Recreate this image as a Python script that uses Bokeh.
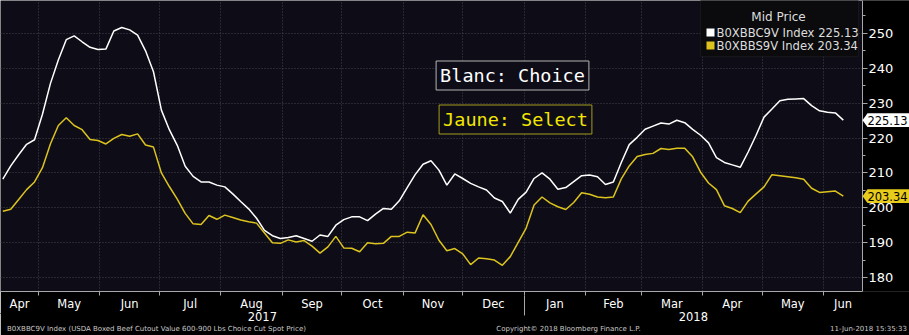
import pandas as pd
from bokeh.plotting import figure
from bokeh.models import (Range1d, DatetimeAxis, LinearAxis, FixedTicker, DatetimeTickFormatter,
                          Label, BoxAnnotation)
from bokeh.embed import file_html
from bokeh.resources import INLINE

# ---------------- data ----------------
dates = pd.date_range("2017-04-13", "2018-06-11", freq="4D")

choice = [208.2, 212.0, 215.2, 218.2, 219.5, 226.8, 235.6, 242.4, 248.2, 249.3,
          247.6, 246.0, 245.4, 245.5, 250.7, 251.7, 251.0, 249.5, 245.0, 239.0,
          228.0, 222.4, 217.9, 211.9, 209.0, 207.4, 207.4, 206.5, 206.0, 204.0,
          201.8, 199.7, 197.0, 193.5, 192.0, 191.2, 191.5, 192.0, 191.2, 190.4,
          192.2, 191.8, 195.0, 196.6, 197.4, 197.4, 196.3, 198.2, 199.8, 199.6,
          202.0, 205.8, 209.5, 212.5, 213.5, 210.8, 206.5, 209.7, 208.4, 207.0,
          206.0, 205.1, 202.8, 201.8, 198.5, 202.4, 204.5, 208.4, 210.0, 208.2,
          205.3, 205.8, 207.5, 209.2, 209.4, 208.9, 206.7, 207.4, 213.0, 218.1,
          220.2, 222.5, 223.4, 224.3, 224.0, 225.1, 224.4, 222.5, 220.8, 218.6,
          214.4, 213.0, 212.3, 211.6, 216.0, 220.8, 226.0, 228.3, 230.7, 231.1,
          231.2, 231.3, 229.3, 227.8, 227.4, 227.2, 225.13]

select = [199.0, 199.6, 202.4, 205.2, 207.4, 211.5, 218.3, 223.6, 225.8, 223.6,
          222.4, 219.6, 219.3, 218.3, 219.9, 221.0, 220.5, 221.2, 218.0, 217.4,
          210.0, 206.1, 202.5, 198.4, 195.4, 195.2, 197.8, 196.7, 197.9, 197.2,
          196.5, 196.0, 195.6, 192.8, 190.0, 189.8, 190.8, 190.2, 190.6, 189.0,
          187.0, 188.8, 191.8, 188.5, 188.4, 187.4, 190.0, 189.7, 189.8, 191.8,
          191.8, 193.0, 192.8, 198.0, 195.2, 190.7, 187.7, 188.3, 186.8, 183.7,
          185.6, 185.4, 185.0, 183.5, 186.0, 190.1, 194.2, 200.8, 203.1, 201.4,
          200.3, 199.5, 201.5, 204.3, 203.9, 203.1, 202.9, 203.1, 208.3, 212.0,
          214.7, 215.3, 215.6, 217.0, 216.7, 217.1, 217.1, 214.6, 210.2, 207.1,
          205.2, 200.6, 199.8, 198.6, 201.9, 204.0, 206.0, 209.5, 209.2, 208.9,
          208.6, 208.2, 205.6, 204.4, 204.6, 204.8, 203.34]

y_ticks = [180, 190, 200, 210, 220, 230, 240, 250]
y_minor = [175, 185, 195, 205, 215, 225, 235, 245, 255]

name_choice = "B0XBBC9V Index"
name_select = "B0XBBS9V Index"
legend_title = "Mid Price"
footer_left = "B0XBBC9V Index (USDA Boxed Beef Cutout Value 600-900 Lbs Choice Cut Spot Price)"
footer_mid = "Copyright\u00a9 2018 Bloomberg Finance L.P."
footer_right = "11-Jun-2018 15:35:33"

# ---------------- layout helpers ----------------
W, H = 909, 335
DATA_W, FR_H = 862, 292
px_per_day = 1.9823
ms_per_px = 86400000.0 / px_per_day
x_start = pd.Timestamp("2017-05-01") - pd.Timedelta(days=38 / px_per_day)
x_data_end = x_start + pd.Timedelta(days=DATA_W / px_per_day)
x_end = x_start + pd.Timedelta(days=W / px_per_day)

def ms(t):
    return t.value / 1e6

def px2ms(px):
    return ms(x_start) + px * ms_per_px

Y0, Y1 = 176.0, 259.43
units_per_px = (Y1 - Y0) / FR_H

month_starts = list(pd.date_range("2017-05-01", "2018-06-01", freq="MS"))
bounds = [x_start] + month_starts + [x_data_end]
month_mids = [a + (b - a) / 2 for a, b in zip(bounds[:-1], bounds[1:])]
jan1 = pd.Timestamp("2018-01-01")
year_mids = [x_start + (jan1 - x_start) / 2, jan1 + (x_data_end - jan1) / 2]

FONT = "DejaVu Sans"
WHITE = "#ffffff"
YELLOW = "#dcc31d"
BG = "#0e0d17"
AXC = "#a8a8a8"

p = figure(width=W, height=H, x_axis_type="datetime",
           x_range=Range1d(ms(x_start), ms(x_end)),
           y_range=Range1d(Y0, Y1),
           y_axis_location="right",
           output_backend="svg", toolbar_location=None,
           min_border_left=0, min_border_top=0, min_border_right=0,
           min_border_bottom=H - FR_H)
p.extra_x_ranges = {"px": Range1d(0, W)}
p.background_fill_color = BG
p.border_fill_color = "black"
p.outline_line_color = None

# grids
p.xgrid.ticker = FixedTicker(ticks=[ms(t) for t in month_starts])
p.ygrid.ticker = FixedTicker(ticks=y_ticks)
for g in (p.xgrid, p.ygrid):
    g.grid_line_color = "#45454f"
    g.grid_line_dash = "1 2"
    g.grid_line_width = 1

# black strip behind the right value axis
p.quad(left=[px2ms(DATA_W)], right=[px2ms(W + 5)], bottom=[Y0 - 5], top=[Y1 + 5],
       fill_color="black", line_color=None)

def all_fmt(f):
    return DatetimeTickFormatter(microseconds=f, milliseconds=f, seconds=f, minsec=f,
                                 minutes=f, hourmin=f, hours=f, days=f, months=f, years=f)

# month axis
xa = p.xaxis[0]
xa.ticker = FixedTicker(ticks=[ms(t) for t in month_mids],
                        minor_ticks=[ms(t) for t in month_starts])
xa.formatter = all_fmt("%b")
xa.bounds = (ms(x_start), ms(x_data_end))
xa.axis_line_color = AXC
xa.major_tick_line_color = None
xa.major_tick_out = 0
xa.major_tick_in = 0
xa.minor_tick_line_color = AXC
xa.minor_tick_out = 4
xa.minor_tick_in = 0
xa.major_label_text_color = WHITE
xa.major_label_text_font = FONT
xa.major_label_text_font_size = "11.5px"
xa.major_label_standoff = 1

# year axis
ya2 = DatetimeAxis(ticker=FixedTicker(ticks=[ms(t) for t in year_mids],
                                      minor_ticks=[ms(jan1)]),
                   formatter=all_fmt("%Y"))
ya2.axis_line_color = "black"
ya2.major_tick_line_color = None
ya2.major_tick_out = 0
ya2.major_tick_in = 0
ya2.minor_tick_line_color = AXC
ya2.minor_tick_in = 18
ya2.minor_tick_out = 2
ya2.major_label_text_color = WHITE
ya2.major_label_text_font = FONT
ya2.major_label_text_font_size = "11.5px"
ya2.major_label_standoff = -4
p.add_layout(ya2, "below")

# footer as a pixel-range axis
foot_ticks = [156, 568, 868]
foot_ax = LinearAxis(x_range_name="px", ticker=FixedTicker(ticks=foot_ticks),
                     major_label_overrides={156: footer_left, 568: footer_mid, 868: footer_right})
foot_ax.axis_line_color = None
foot_ax.major_tick_line_color = None
foot_ax.minor_tick_line_color = None
foot_ax.major_tick_out = 0
foot_ax.major_tick_in = 0
foot_ax.major_label_text_color = "#c8c8c8"
foot_ax.major_label_text_font = FONT
foot_ax.major_label_text_font_size = "7px"
foot_ax.major_label_standoff = 1
p.add_layout(foot_ax, "below")

# right value axis, pinned at the end of the data area
yax = p.yaxis[0]
yax.fixed_location = ms(x_data_end)
yax.ticker = FixedTicker(ticks=y_ticks, minor_ticks=y_minor)
yax.axis_line_color = AXC
yax.major_tick_line_color = AXC
yax.major_tick_out = 5
yax.major_tick_in = 0
yax.minor_tick_line_color = AXC
yax.minor_tick_out = 3
yax.minor_tick_in = 0
yax.major_label_text_color = WHITE
yax.major_label_text_font = FONT
yax.major_label_text_font_size = "13px"
yax.major_label_standoff = 1

# series
p.line(dates, choice, line_color=WHITE, line_width=1.5)
p.line(dates, select, line_color=YELLOW, line_width=1.5)

# legend box (top right)
p.add_layout(BoxAnnotation(left=700, right=858, top=FR_H, bottom=FR_H - 57,
                           left_units="screen", right_units="screen",
                           top_units="screen", bottom_units="screen",
                           fill_color="#0b0b0d", fill_alpha=1.0,
                           line_color="#2e2e33", line_width=1))
p.add_layout(Label(x=778, y=FR_H - 17, x_units="screen", y_units="screen",
                   text=legend_title, text_align="center", text_baseline="middle",
                   text_color="#dddddd", text_font=FONT, text_font_size="12px"))
for i, (nm, last, col) in enumerate([(name_choice, choice[-1], WHITE),
                                     (name_select, select[-1], YELLOW)]):
    yc = FR_H - 33 - 13 * i
    p.add_layout(BoxAnnotation(left=706, right=714, top=yc + 4, bottom=yc - 4,
                               left_units="screen", right_units="screen",
                               top_units="screen", bottom_units="screen",
                               fill_color=col, fill_alpha=1.0, line_color=None))
    p.add_layout(Label(x=716, y=yc, x_units="screen", y_units="screen",
                       text=f"{nm} {last:.2f}", text_align="left",
                       text_baseline="middle", text_color="#dddddd",
                       text_font=FONT, text_font_size="11.6px"))

# annotations in the chart
p.add_layout(Label(x=512, y=FR_H - 76, x_units="screen", y_units="screen",
                   text="Blanc: Choice", text_align="center", text_baseline="middle",
                   text_color=WHITE, text_font="DejaVu Sans Mono", text_font_size="18.5px",
                   background_fill_color=BG, border_line_color="#b4b4b4",
                   border_line_width=1, padding=4))
p.add_layout(Label(x=515, y=FR_H - 120, x_units="screen", y_units="screen",
                   text="Jaune: Select", text_align="center", text_baseline="middle",
                   text_color="#f2e600", text_font="DejaVu Sans Mono", text_font_size="18.5px",
                   background_fill_color=BG, border_line_color="#a49c1c",
                   border_line_width=1, padding=4))

# last value callouts on the right axis
h = 7 * units_per_px
for last, bg in ((choice[-1], WHITE), (select[-1], "#e8cc1c")):
    p.patches(xs=[[px2ms(862), px2ms(867), px2ms(W + 2), px2ms(W + 2), px2ms(867)]],
              ys=[[last, last + h, last + h, last - h, last - h]],
              fill_color=bg, line_color=None, level="overlay")
    p.add_layout(Label(x=887, y=last, x_units="screen", y_units="data",
                       text=f"{last:.2f}", text_align="center", text_baseline="middle",
                       text_color="black", text_font=FONT, text_font_size="11.5px",
                       level="overlay"))

open("out.html", "w").write(file_html(p, INLINE))
